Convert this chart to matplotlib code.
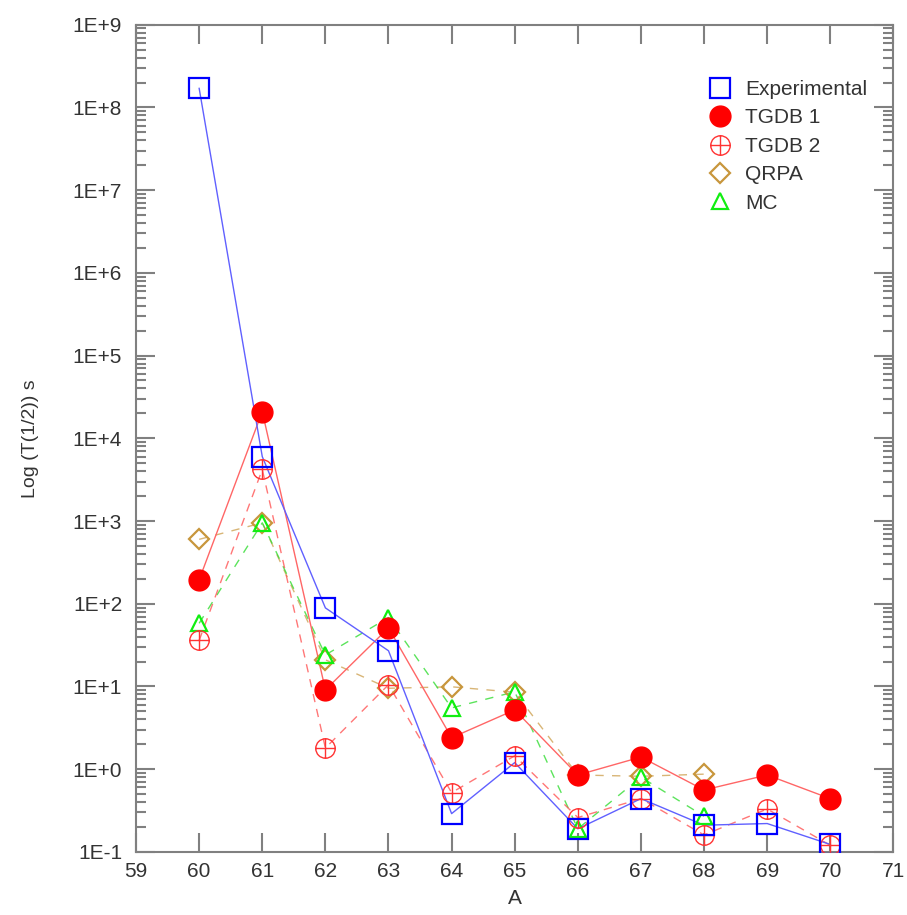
import matplotlib.pyplot as plt
import numpy as np
from matplotlib.path import Path
from matplotlib.ticker import FixedLocator, LogLocator, FuncFormatter, NullFormatter

plt.rcParams['font.family'] = ['Liberation Sans', 'DejaVu Sans']

# mass number A and half-lives (s)
A = [60, 61, 62, 63, 64, 65, 66, 67, 68, 69, 70]
exp_vals = [1.7e8, 6.0e3, 89, 27, 0.29, 1.2, 0.19, 0.44, 0.21, 0.22, 0.123]
tgdb1 = [195, 2.1e4, 9.1, 51, 2.4, 5.2, 0.85, 1.4, 0.56, 0.85, 0.44]
tgdb2 = [36, 4200, 1.8, 10.5, 0.52, 1.45, 0.26, 0.44, 0.16, 0.33, 0.12]
A_th = [60, 61, 62, 63, 64, 65, 66, 67, 68]
qrpa = [600, 950, 21, 9.5, 9.9, 8.5, 0.85, 0.82, 0.87]
mc = [58, 950, 24, 68, 5.5, 8.6, 0.19, 0.8, 0.27]

# circle with a cross inside, like the TGDB 2 symbol
circ = Path.unit_circle()
verts = list(circ.vertices) + [(-1, 0), (1, 0), (0, -1), (0, 1)]
codes = list(circ.codes) + [Path.MOVETO, Path.LINETO, Path.MOVETO, Path.LINETO]
oplus = Path(verts, codes)

fig = plt.figure(figsize=(9.07, 9.15), dpi=100)
ax = fig.add_axes([0.150, 0.069, 0.835, 0.904])

tan = '#c8963c'
# connecting lines (lighter than the markers)
ax.plot(A_th, qrpa, color=tan, lw=1, ls=(0, (6, 6)), alpha=0.7, zorder=1)
ax.plot(A_th, mc, color='#33dd33', lw=1, ls=(0, (6, 6)), alpha=0.8, zorder=1)
ax.plot(A, tgdb2, color='#ff5555', lw=1, ls=(0, (6, 5)), alpha=0.8, zorder=1)
ax.plot(A, tgdb1, color='#ff6666', lw=1, zorder=1)
ax.plot(A, exp_vals, color='#6060ff', lw=1, zorder=1)

# markers
ax.plot(A_th, qrpa, ls='none', marker='D', ms=10, mfc='none', mec=tan, mew=1.6,
        label='QRPA', zorder=2)
ax.plot(A_th, mc, ls='none', marker='^', ms=12, mfc='none', mec='#11ee11', mew=1.6,
        label='MC', zorder=3)
ax.plot(A, tgdb2, ls='none', marker=oplus, ms=14, mfc='none', mec='#ff3333', mew=1.0,
        label='TGDB 2', zorder=4)
ax.plot(A, tgdb1, ls='none', marker='o', ms=15, color='#ff0000', label='TGDB 1', zorder=5)
ax.plot(A, exp_vals, ls='none', marker='s', ms=14, mfc='none', mec='#0000ff', mew=1.6,
        label='Experimental', zorder=6)

ax.set_yscale('log')
ax.set_ylim(1e-1, 1e9)
ax.set_xlim(59, 71)
ax.xaxis.set_major_locator(FixedLocator(range(59, 72)))
ax.yaxis.set_major_locator(LogLocator(base=10, numticks=20))
ax.yaxis.set_minor_locator(LogLocator(base=10, subs=np.arange(2, 10), numticks=20))
ax.yaxis.set_minor_formatter(NullFormatter())
ax.yaxis.set_major_formatter(FuncFormatter(
    lambda v, p: '1E%+d' % int(round(np.log10(v)))))

gray = '#808080'
for s in ax.spines.values():
    s.set_color(gray)
    s.set_linewidth(1.5)
ax.tick_params(which='both', direction='in', color=gray, width=1.5,
               top=True, right=True, labelcolor='#333333', labelsize=15)
ax.tick_params(axis='y', pad=10)
ax.tick_params(axis='x', pad=7)
ax.tick_params(which='major', length=14)
ax.tick_params(which='minor', length=7)

ax.set_xlabel('A', fontsize=15, color='#333333', labelpad=6)
ax.set_ylabel('Log (T(1/2)) s', fontsize=14, color='#333333', labelpad=24)

handles, labels = ax.get_legend_handles_labels()
order = ['Experimental', 'TGDB 1', 'TGDB 2', 'QRPA', 'MC']
hl = {l: h for h, l in zip(handles, labels)}
ax.legend([hl[o] for o in order], order, loc='upper left', frameon=False,
          fontsize=15, bbox_to_anchor=(0.762, 0.933), bbox_transform=fig.transFigure,
          labelspacing=0.45, handlelength=1.0, handletextpad=0.7,
          labelcolor='#333333')

fig.savefig('out.png', dpi=100)
